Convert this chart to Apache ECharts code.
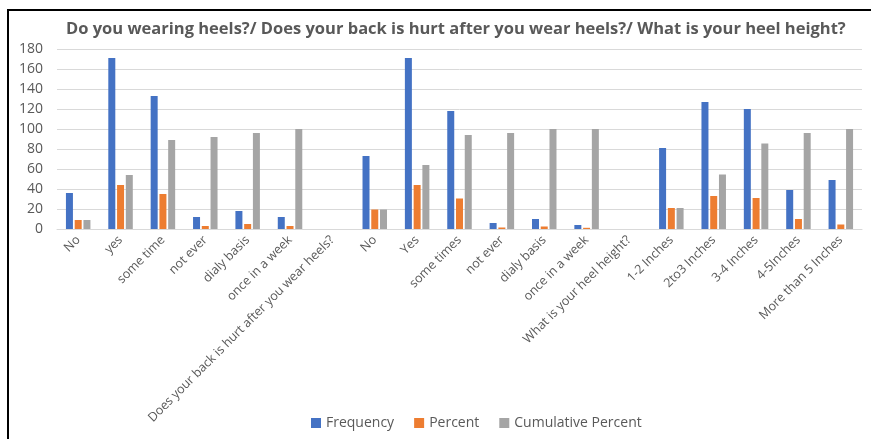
<!DOCTYPE html>
<html>
<head>
<meta charset="utf-8">
<script src="https://cdn.jsdelivr.net/npm/echarts@6/dist/echarts.min.js"></script>
<style>
    html, body { margin: 0; padding: 0; background: #fff; }
    #chart { width: 871px; height: 439px; }
    #frame {
        position: absolute; left: 7px; top: 9px; width: 880px; height: 440px;
        border-left: 2px solid #000; border-top: 2px solid #000; pointer-events: none;
    }
</style>
</head>
<body>
<div id="chart"></div>
<div id="frame"></div>
<script>
// categories (question headers have no bars)
const categories = [
    'No', 'yes', 'some time', 'not ever', 'dialy basis', 'once in a week',
    'Does your back is hurt after you wear heels?',
    'No', 'Yes', 'some times', 'not ever', 'dialy basis', 'once in a week',
    'What is your heel height?',
    '1-2 Inches', '2to3 Inches', '3-4 Inches', '4-5Inches', 'More than 5 Inches'
];
const frequency = [36, 171, 133, 12, 18, 12, null, 73, 171, 118, 6, 10, 4, null, 81, 127, 120, 39, 49];
const percent = [9, 44, 35, 3, 5, 3, null, 19.5, 44, 30.5, 1.5, 2.5, 1.2, null, 21, 33, 31, 10, 4.5];
const cumulative = [9, 54, 89, 92, 96, 100, null, 19.5, 64, 94, 96, 100, 100, null, 21, 54.5, 85.5, 96, 100];
const yTicks = { min: 0, max: 180, interval: 20 };

const chart = echarts.init(document.getElementById('chart'));
const font = '"Open Sans", "Liberation Sans", sans-serif';

chart.setOption({
    animation: false,
    title: {
        text: 'Do you wearing heels?/ Does your back is hurt after you wear heels?/ What is your heel height?',
        left: 61,
        top: 16,
        textStyle: { fontFamily: font, fontSize: 16.5, fontWeight: 'bold', color: '#595959' }
    },
    legend: {
        bottom: 4,
        left: 306,
        itemWidth: 10,
        itemHeight: 10,
        itemGap: 20,
        icon: 'rect',
        textStyle: { fontFamily: font, fontSize: 14, color: '#595959' },
        data: ['Frequency', 'Percent', 'Cumulative Percent']
    },
    grid: { left: 57, right: 9, top: 49, bottom: 210, containLabel: false },
    xAxis: {
        type: 'category',
        data: categories,
        axisTick: { show: false },
        axisLine: { lineStyle: { color: '#d9d9d9', width: 1 } },
        axisLabel: {
            interval: 0,
            rotate: 45,
            margin: 9,
            fontFamily: font,
            fontSize: 12.5,
            color: '#595959'
        }
    },
    yAxis: {
        type: 'value',
        min: yTicks.min,
        max: yTicks.max,
        interval: yTicks.interval,
        axisLine: { show: false },
        axisTick: { show: false },
        axisLabel: { fontFamily: font, fontSize: 14, color: '#595959', margin: 14 },
        splitLine: { lineStyle: { color: '#d9d9d9', width: 1 } }
    },
    series: [
        { name: 'Frequency', type: 'bar', data: frequency, barWidth: 7, barGap: '25%',
          itemStyle: { color: '#4472C4' } },
        { name: 'Percent', type: 'bar', data: percent, barWidth: 7, barGap: '25%',
          itemStyle: { color: '#ED7D31' } },
        { name: 'Cumulative Percent', type: 'bar', data: cumulative, barWidth: 7, barGap: '25%',
          itemStyle: { color: '#A5A5A5' } }
    ]
});
</script>
</body>
</html>
